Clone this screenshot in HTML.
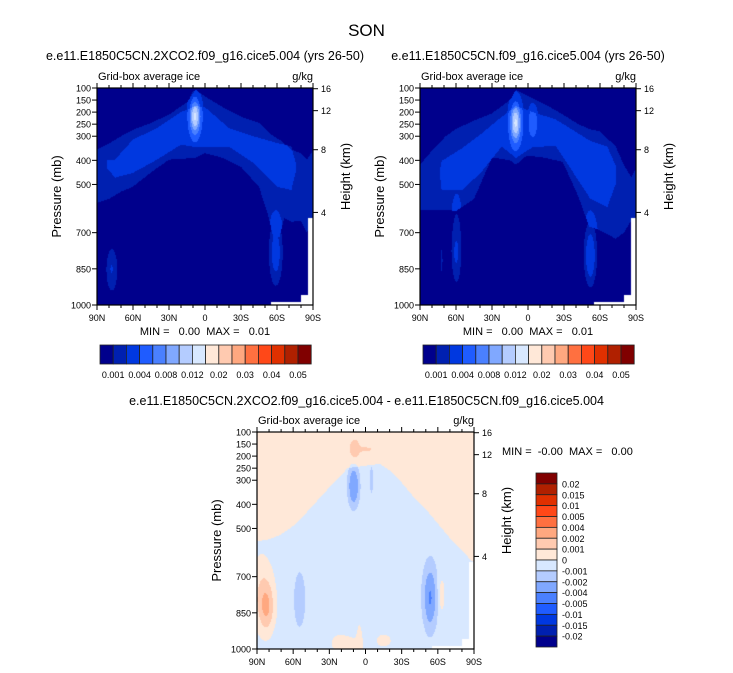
<!DOCTYPE html>
<html><head><meta charset="utf-8">
<style>
html,body{margin:0;padding:0;background:#fff;}
#root{position:relative;width:733px;height:673px;overflow:hidden;font-family:"Liberation Sans",Arial,sans-serif;}
canvas{position:absolute;}
svg{position:absolute;left:0;top:0;}
svg text{white-space:pre;}
</style></head>
<body>
<div id="root">
<canvas id="c1" width="216" height="217" style="left:97px;top:88px"></canvas>
<canvas id="c2" width="216" height="217" style="left:420px;top:88px"></canvas>
<canvas id="c3" width="217" height="217" style="left:257px;top:432px"></canvas>
<svg id="ov" width="733" height="673"></svg>
</div>
<script>
// ---- data ----
const colors = ["#00008c","#0020b0","#0038e0","#1f5cff","#4a80ff","#80a8ff","#b4ccff","#d8e8ff","#ffe8d8","#ffcab0","#ffa880","#ff7040","#ff4818","#e03000","#b02000","#800000"];
const levelsAbs = [0.001,0.002,0.004,0.006,0.008,0.01,0.012,0.015,0.02,0.025,0.03,0.035,0.04,0.045,0.05];
const levelsDiff = [-0.02,-0.015,-0.01,-0.005,-0.004,-0.002,-0.001,0,0.001,0.002,0.004,0.005,0.01,0.015,0.02];
const absTickLabels = ["0.001","0.004","0.008","0.012","0.02","0.03","0.04","0.05"];
const diffTickLabels = ["0.02","0.015","0.01","0.005","0.004","0.002","0.001","0","-0.001","-0.002","-0.004","-0.005","-0.01","-0.015","-0.02"];
const pressureTicks = [100,150,200,250,300,400,500,700,850,1000];
const heightTicks = ["16","12","8","4"];
const heightTickP = [103,194,356,616];
const latTicks = [90,60,30,0,-30,-60,-90];
const latTickLabels = ["90N","60N","30N","0","30S","60S","90S"];

// Panel 1 (2XCO2) bands
const p1OuterLat = [90,80,70,60,45,30,15,8,0,-15,-30,-45,-52,-57,-62,-66,-72,-80,-85,-90];
const p1OuterTop = [356,330,300,273,245,210,160,107,135,180,219,245,280,300,314,330,356,370,397,360];
const p1OuterBot = [577,560,530,509,450,397,392,390,370,390,427,510,617,720,720,640,655,650,700,640];
const p1InnerLat = [82,75,60,40,20,8,0,-20,-40,-60,-72,-76];
const p1InnerTop = [400,397,314,266,200,175,180,266,300,328,342,420];
const p1InnerBot = [430,472,452,397,335,345,343,343,410,510,523,440];
const p1BlobLat = [8.3,77.5,78,-59];
const p1BlobP = [218,855,850,783];
const p1BlobAmp = [0.0095,0.0014,0.0007,0.0028];
const p1BlobSLat = [3,5,2,4];
const p1BlobSP = [50,100,35,95];

// Panel 2 (control) bands
const p2OuterLat = [90,80,69,60,45,30,15,10,1,-15,-29,-42,-51,-60,-73,-80,-86,-90];
const p2OuterTop = [418,360,302,270,235,205,150,108,130,170,210,250,270,280,342,420,470,435];
const p2OuterBot = [605,605,605,610,560,388,400,418,380,390,407,550,675,690,725,700,650,690];
const p2InnerLat = [73,72,55,39,22,10,-4,-23,-36,-52,-66,-73];
const p2InnerTop = [430,403,350,290,220,175,200,230,270,320,343,420];
const p2InnerBot = [480,523,523,450,343,390,345,340,438,560,595,500];
const p2BlobLat = [10.3,-4,59.5,60,72,-52,-52];
const p2BlobP = [245,245,760,785,815,785,800];
const p2BlobAmp = [0.0095,0.002,0.0015,0.0009,0.0012,0.0018,0.002];
const p2BlobSLat = [3,3,4,2,1.2,4.5,2.5];
const p2BlobSP = [55,50,150,50,70,110,60];

// Panel 3 (difference)
const diffBase = 0.0005;
const domeLat = [90,80,70,60,50,40,30,20,15,8,0,-12,-20,-30,-40,-50,-60,-70,-80,-87,-90];
const domeTop = [554,545,525,490,440,385,330,280,250,245,240,232,260,310,370,420,480,540,590,630,640];
const domeBot = [1000,1000,1000,1000,1000,1000,1000,1000,1000,1000,1000,1000,1000,1000,1000,1000,1000,1000,1000,1000,1000];
const domeVal = -0.001;
const p3BlobLat = [9.8,-5,9,0,-53.6,-53.6,54.6,82,86,-63,22,12,5,-15];
const p3BlobP = [325,300,173,172,782,790,795,830,760,775,975,985,960,965];
const p3BlobAmp = [-0.003,-0.0012,0.0013,0.0008,-0.002,-0.0018,-0.0012,0.002,0.0013,0.0012,0.0008,0.0009,0.0008,0.0008];
const p3BlobSLat = [3,1,3,5,4.5,2.2,3.5,4.5,7,2,6,6,2,6];
const p3BlobSP = [55,40,30,8,100,55,85,70,110,55,30,25,60,25];

// ---- helpers ----
function interp(xs, ys, x){
  if (x > xs[0] || x < xs[xs.length-1]) return null;
  for (let i=0;i<xs.length-1;i++){
    const a=xs[i], b=xs[i+1];
    if ((x<=a && x>=b)){ const t=(x-a)/(b-a); return ys[i]+(ys[i+1]-ys[i])*t; }
  }
  return null;
}
function band(lats, tops, bots, val, lat, p){
  const t=interp(lats,tops,lat), b=interp(lats,bots,lat);
  if (t===null||b===null) return 0;
  return (p>=t && p<=b) ? val : 0;
}
function blobs(la, pa, amp, sl, sp, lat, p){
  let v=0;
  for(let i=0;i<la.length;i++){
    const dx=(lat-la[i])/sl[i], dy=(p-pa[i])/sp[i];
    v+=amp[i]*Math.exp(-0.5*(dx*dx+dy*dy));
  }
  return v;
}
function missing(lat,p){
  return (lat < -85.5 && p > 640) || (lat < -55 && p > 987) || (lat < -80 && p > 960);
}
function idx(levels, v){ let k=0; while(k<levels.length && v>=levels[k]) k++; return k; }
function hexRGB(h){ return [parseInt(h.substr(1,2),16),parseInt(h.substr(3,2),16),parseInt(h.substr(5,2),16)]; }
const rgb = colors.map(hexRGB);

function render(id, field, levels){
  const cv=document.getElementById(id), ctx=cv.getContext('2d');
  const W=cv.width, H=cv.height, img=ctx.createImageData(W,H);
  for(let y=0;y<H;y++){
    const p=100+900*(y+0.5)/H;
    for(let x=0;x<W;x++){
      const lat=90-180*(x+0.5)/W;
      const o=(y*W+x)*4;
      if (missing(lat,p)){ img.data[o]=255;img.data[o+1]=255;img.data[o+2]=255;img.data[o+3]=255; continue; }
      const c=rgb[idx(levels, field(lat,p))];
      img.data[o]=c[0];img.data[o+1]=c[1];img.data[o+2]=c[2];img.data[o+3]=255;
    }
  }
  ctx.putImageData(img,0,0);
}
render('c1',(lat,p)=>band(p1OuterLat,p1OuterTop,p1OuterBot,0.0015,lat,p)+band(p1InnerLat,p1InnerTop,p1InnerBot,0.0015,lat,p)+blobs(p1BlobLat,p1BlobP,p1BlobAmp,p1BlobSLat,p1BlobSP,lat,p),levelsAbs);
render('c2',(lat,p)=>band(p2OuterLat,p2OuterTop,p2OuterBot,0.0015,lat,p)+band(p2InnerLat,p2InnerTop,p2InnerBot,0.0015,lat,p)+blobs(p2BlobLat,p2BlobP,p2BlobAmp,p2BlobSLat,p2BlobSP,lat,p),levelsAbs);
render('c3',(lat,p)=>diffBase+band(domeLat,domeTop,domeBot,domeVal,lat,p)+blobs(p3BlobLat,p3BlobP,p3BlobAmp,p3BlobSLat,p3BlobSP,lat,p),levelsDiff);

// ---- overlay (axes, text) ----
const svg=document.getElementById('ov'), NS='http://www.w3.org/2000/svg';
function el(tag, attrs, parent){ const e=document.createElementNS(NS,tag); for(const k in attrs) e.setAttribute(k,attrs[k]); (parent||svg).appendChild(e); return e; }
function txt(s, x, y, size, anchor, name, extra){
  const t=el('text',Object.assign({x:x,y:y,'font-size':size,'text-anchor':anchor||'start',fill:'#000','font-family':'"Liberation Sans", Arial, sans-serif'},extra||{}));
  t.textContent=s;
  
  
  return t;
}
function axes(x0,y0,W,H,prefix){
  const g=el('g',{});
  
  
  const py=p=>y0+(p-100)/900*H, lx=l=>x0+(90-l)/180*W;
  el('rect',{x:x0,y:y0,width:W,height:H,fill:'none',stroke:'#000','stroke-width':1.2},g);
  pressureTicks.forEach(p=>{
    el('line',{x1:x0-5,x2:x0,y1:py(p),y2:py(p),stroke:'#000'},g);
    txt(String(p),x0-6,py(p)+3.5,9,'end',prefix+'-pressure-tick-'+p);
  });
  heightTicks.forEach((h,i)=>{
    const y=py(heightTickP[i]);
    el('line',{x1:x0+W,x2:x0+W+5,y1:y,y2:y,stroke:'#000'},g);
    txt(h,x0+W+8,y+3.5,9,'start',prefix+'-height-tick-'+h);
  });
  for(let l=90;l>=-90;l-=10){
    const major=l%30===0, len=major?5:3;
    el('line',{x1:lx(l),x2:lx(l),y1:y0+H,y2:y0+H+len,stroke:'#000'},g);
    el('line',{x1:lx(l),x2:lx(l),y1:y0,y2:y0-len,stroke:'#000'},g);
  }
  latTicks.forEach((l,i)=>txt(latTickLabels[i],lx(l),y0+H+16,9,'middle',prefix+'-lat-tick-'+latTickLabels[i]));
  txt('Grid-box average ice',x0+1,y0-8,11,'start',prefix+'-variable-label');
  txt('g/kg',x0+W,y0-8,11,'end',prefix+'-units-label');
  txt('Pressure (mb)',0,0,13,'middle',prefix+'-y-axis-title',{transform:`translate(${x0-36},${y0+H/2}) rotate(-90)`});
  txt('Height (km)',0,0,13,'middle',prefix+'-y2-axis-title',{transform:`translate(${x0+W+37},${y0+H/2-20}) rotate(-90)`});
}
function hbar(x0,y0,bw,h,prefix){
  const g=el('g',{});
  
  
  colors.forEach((c,i)=>{
    const r=el('rect',{x:x0+i*bw,y:y0,width:bw,height:h,fill:c,stroke:'#222','stroke-width':0.8},g);
    
    
  });
  absTickLabels.forEach((s,i)=>txt(s,x0+(2*i+1)*bw,y0+h+14,9,'middle',prefix+'-colorbar-label-'+s));
}
txt('SON',366.5,36,17,'middle','main-title');
txt('e.e11.E1850C5CN.2XCO2.f09_g16.cice5.004 (yrs 26-50)',205,60,12.5,'middle','panel1-title');
txt('e.e11.E1850C5CN.f09_g16.cice5.004 (yrs 26-50)',528,60,12.5,'middle','panel2-title');
axes(97,88,216,217,'panel1');
axes(420,88,216,217,'panel2');
txt('MIN =   0.00  MAX =   0.01',205,335,11,'middle','panel1-minmax');
txt('MIN =   0.00  MAX =   0.01',528,335,11,'middle','panel2-minmax');
hbar(100,345,13.2,19,'panel1');
hbar(423,345,13.2,19,'panel2');
txt('e.e11.E1850C5CN.2XCO2.f09_g16.cice5.004 - e.e11.E1850C5CN.f09_g16.cice5.004',366.5,405,12.5,'middle','panel3-title');
axes(257,432,217,217,'panel3');
txt('MIN =  -0.00  MAX =   0.00',502,455,11,'start','panel3-minmax');
(function(){
  const x0=536,y0=473,bw=21,bh=174/16;
  const g=el('g',{});
  
  
  for(let i=0;i<16;i++){
    const r=el('rect',{x:x0,y:y0+i*bh,width:bw,height:bh,fill:colors[15-i],stroke:'#222','stroke-width':0.8},g);
    
    
  }
  diffTickLabels.forEach((s,i)=>txt(s,x0+bw+5,y0+(i+1)*bh+3.5,9,'start','panel3-colorbar-label-'+s));
})();
</script>
</body></html>
